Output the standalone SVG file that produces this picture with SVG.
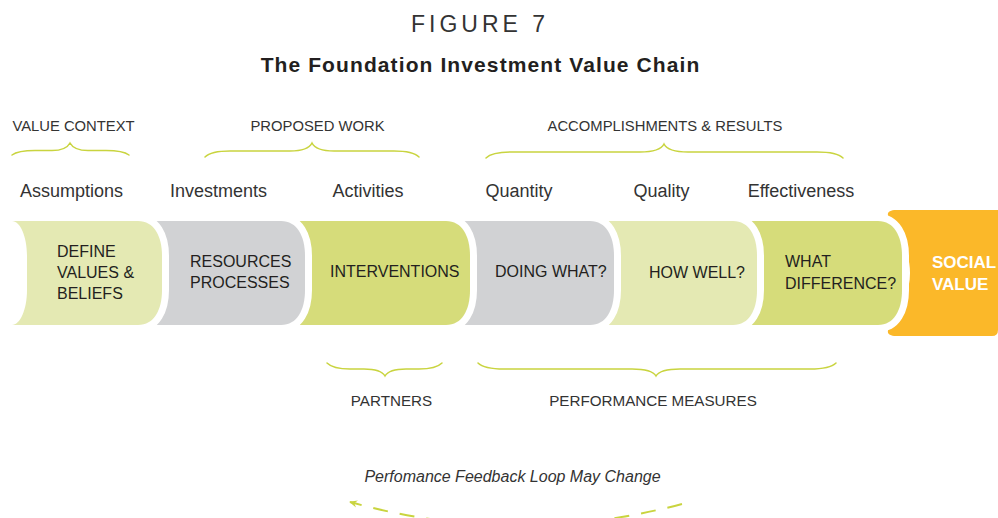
<svg xmlns="http://www.w3.org/2000/svg" width="998" height="518" viewBox="0 0 998 518">
<style>
text{font-family:"Liberation Sans",Arial,sans-serif;fill:#231f20}
.seg{stroke:#fff;stroke-width:14;paint-order:stroke;stroke-linejoin:round}
.lg{fill:#e4e9b3}.gr{fill:#d1d2d4}.dg{fill:#d6dc7a}
.st{font-size:16px}
.lab{font-size:18px;fill:#333}
.hdr{font-size:14.8px;fill:#333}
.br{fill:none;stroke:#c9d43f;stroke-width:1.5;stroke-linecap:round}
</style>
<defs>
<marker id="ah" viewBox="0 0 10 10" refX="8" refY="5" markerWidth="9" markerHeight="9" orient="auto" markerUnits="userSpaceOnUse">
<path d="M0,1 L9,5 L0,9 L3,5 Z" fill="#c9d43f"/>
</marker>
</defs>
<g id="title">
<text x="480" y="32" text-anchor="middle" style="font-size:23px;letter-spacing:4px;fill:#333">FIGURE 7</text>
<text x="480.5" y="72" text-anchor="middle" style="font-size:21px;font-weight:bold;letter-spacing:1.1px">The Foundation Investment Value Chain</text>
</g>
<g id="headers">
<text class="hdr" x="73.5" y="130.5" text-anchor="middle">VALUE CONTEXT</text>
<text class="hdr" x="317.5" y="130.5" text-anchor="middle">PROPOSED WORK</text>
<text class="hdr" x="665" y="130.5" text-anchor="middle">ACCOMPLISHMENTS &amp; RESULTS</text>
</g>
<g id="braces">
<path class="br" d="M12 155 Q18 150.5 35 150.5 L52 150.5 Q66 150.5 70 143 Q74 150.5 88 150.5 L106 150.5 Q123 150.5 129 155"/>
<path class="br" d="M205 157 Q211 151 230 151 L290 151 Q308 151 312 143 Q316 151 334 151 L394 151 Q413 151 419 157"/>
<path class="br" d="M486 158 Q492 152 512 152 L640 152 Q660 152 664 144 Q668 152 688 152 L817 152 Q837 152 843 158"/>
<path class="br" d="M327 363 Q333 369 350 369 L364 369 Q381 369 385 376 Q389 369 406 369 L419 369 Q436 369 442 363"/>
<path class="br" d="M478 363 Q484 369 504 369 L632 369 Q652 369 656 376 Q660 369 680 369 L810 369 Q830 369 836 363"/>
</g>
<g id="labels">
<text class="lab" x="71.5" y="196.5" text-anchor="middle">Assumptions</text>
<text class="lab" x="218.5" y="196.5" text-anchor="middle">Investments</text>
<text class="lab" x="368" y="196.5" text-anchor="middle">Activities</text>
<text class="lab" x="519" y="196.5" text-anchor="middle">Quantity</text>
<text class="lab" x="661.5" y="196.5" text-anchor="middle">Quality</text>
<text class="lab" x="801" y="196.5" text-anchor="middle">Effectiveness</text>
</g>
<g id="social-value">
<path d="M998 210 H896 C889 210 886 213 889 218 C903 238 910 256 910 273 C910 290 903 308 889 328 C886 333 889 336 896 336 H992 Q998 336 998 330 Z" fill="#fbb829"/>
<text x="932" y="268" style="font-size:17px;font-weight:bold;fill:#fff">SOCIAL</text>
<text x="932" y="290" style="font-size:17px;font-weight:bold;fill:#fff">VALUE</text>
</g>
<g id="what-difference">
<path class="seg dg" d="M738 221 H878 C894 221 902 236 902 256 V290 C902 310 894 325 878 325 H738 Z"/>
<text class="st" x="785" y="267">WHAT</text>
<text class="st" x="785" y="289">DIFFERENCE?</text>
</g>
<g id="how-well">
<path class="seg lg" d="M595 221 H733 C749 221 757 236 757 256 V290 C757 310 749 325 733 325 H595 Z"/>
<text class="st" x="649" y="278">HOW WELL?</text>
</g>
<g id="doing-what">
<path class="seg gr" d="M451 221 H590 C606 221 614 236 614 256 V290 C614 310 606 325 590 325 H451 Z"/>
<text class="st" x="495" y="277">DOING WHAT?</text>
</g>
<g id="interventions">
<path class="seg dg" d="M286 221 H446 C462 221 470 236 470 256 V290 C470 310 462 325 446 325 H286 Z"/>
<text class="st" x="330" y="277">INTERVENTIONS</text>
</g>
<g id="resources-processes">
<path class="seg gr" d="M143 221 H281 C297 221 305 236 305 256 V290 C305 310 297 325 281 325 H143 Z"/>
<text class="st" x="190" y="267">RESOURCES</text>
<text class="st" x="190" y="288">PROCESSES</text>
</g>
<g id="define-values">
<path class="seg lg" d="M12 221 H138 C154 221 162 236 162 256 V290 C162 310 154 325 138 325 H12 C20 325 27 310 27 290 V256 C27 236 20 221 12 221 Z"/>
<text class="st" x="57" y="256.5">DEFINE</text>
<text class="st" x="57" y="277.5">VALUES &amp;</text>
<text class="st" x="57" y="298.5">BELIEFS</text>
</g>
<g id="bottom-labels">
<text class="hdr" x="391.5" y="405.5" text-anchor="middle" style="font-size:15.2px">PARTNERS</text>
<text class="hdr" x="653" y="405.5" text-anchor="middle" style="font-size:15.2px">PERFORMANCE MEASURES</text>
</g>
<g id="connectors">
<text x="512.5" y="482" text-anchor="middle" style="font-size:16px;font-style:italic;fill:#333">Perfomance Feedback Loop May Change</text>
<path d="M682 504 Q515 548 350 502" fill="none" stroke="#c9d43f" stroke-width="2" stroke-dasharray="15 12" marker-end="url(#ah)"/>
</g>
</svg>
